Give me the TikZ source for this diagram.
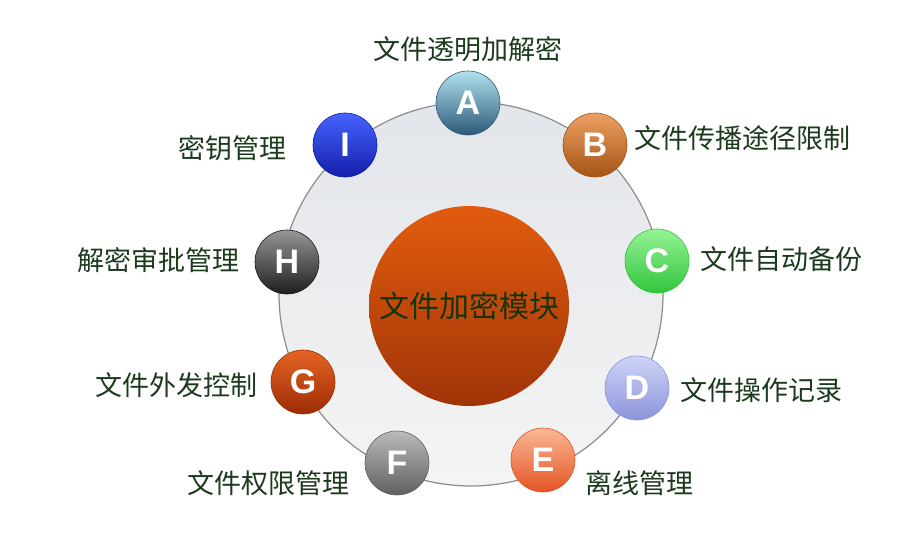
\documentclass[tikz,border=0pt]{standalone}
\usepackage{fontspec}
\newfontfamily\cjk{Noto Sans CJK SC}
\newfontfamily\letterfont{Liberation Sans}
\usetikzlibrary{positioning}
\definecolor{labelgreen}{RGB}{28,58,28}
\definecolor{coretext}{RGB}{22,52,12}
\definecolor{coretop}{RGB}{226,92,14}
\definecolor{corebot}{RGB}{160,52,8}
\definecolor{ringtop}{RGB}{226,229,234}
\definecolor{ringbot}{RGB}{244,244,244}
\definecolor{atop}{RGB}{178,226,240}\definecolor{abot}{RGB}{44,90,120}
\definecolor{btop}{RGB}{238,160,100}\definecolor{bbot}{RGB}{164,84,20}
\definecolor{ctop}{RGB}{150,244,150}\definecolor{cbot}{RGB}{50,196,60}
\definecolor{dtop}{RGB}{206,212,246}\definecolor{dbot}{RGB}{140,148,220}
\definecolor{etop}{RGB}{250,184,150}\definecolor{ebot}{RGB}{228,84,36}
\definecolor{ftop}{RGB}{186,186,186}\definecolor{fbot}{RGB}{96,96,96}
\definecolor{gtop}{RGB}{230,100,36}\definecolor{gbot}{RGB}{156,44,4}
\definecolor{htop}{RGB}{150,150,150}\definecolor{hbot}{RGB}{30,30,30}
\definecolor{itop}{RGB}{70,100,255}\definecolor{ibot}{RGB}{20,30,170}
\tikzset{ring node/.style={circle,minimum size=384pt,inner sep=0pt,top color=ringtop,bottom color=ringbot,draw=black!45,line width=1.2pt},
         core node/.style={circle,minimum size=200pt,inner sep=0pt,top color=coretop,bottom color=corebot,draw=none,font=\cjk\fontsize{30}{30}\selectfont,text=coretext},
         ball node/.style n args={2}{circle,minimum size=64pt,inner sep=0pt,top color=#1,bottom color=#2,draw=#2,line width=0.6pt,font=\letterfont\bfseries\fontsize{34}{34}\selectfont,text=white},
         item label/.style={font=\cjk\fontsize{27}{27}\selectfont,text=labelgreen,inner sep=0pt},
            }

\begin{document}
\begin{tikzpicture}[x=1pt,y=-1pt]
    \useasboundingbox (0,0) rectangle (914,559);
    \node[ring node] (ring) at (471,294) {};
    \node[core node] (core) at (469,306) {文件加密模块};

    \node[ball node={atop}{abot}] (A) at (468,103) {A};
    \node[ball node={btop}{bbot}] (B) at (595,145) {B};
    \node[ball node={ctop}{cbot}] (C) at (657,261) {C};
    \node[ball node={dtop}{dbot}] (D) at (637,388) {D};
    \node[ball node={etop}{ebot}] (E) at (543,460) {E};
    \node[ball node={ftop}{fbot}] (F) at (397,463) {F};
    \node[ball node={gtop}{gbot}] (G) at (303,382) {G};
    \node[ball node={htop}{hbot}] (H) at (287,262) {H};
    \node[ball node={itop}{ibot}] (I) at (345,145) {I};

    \node[item label] (la) [above = 9pt of A] {文件透明加解密};
    \node[item label] (lb) [right = 7pt of B, yshift=7pt] {文件传播途径限制};
    \node[item label] (lc) [right = 11pt of C, yshift=2pt] {文件自动备份};
    \node[item label] (ld) [right = 11pt of D, yshift=-2pt] {文件操作记录};
    \node[item label] (le) [right = 10pt of E, yshift=-23pt] {离线管理};
    \node[item label] (lf) [left = 15pt of F, yshift=-20pt] {文件权限管理};
    \node[item label] (lg) [left = 13pt of G, yshift=-3pt] {文件外发控制};
    \node[item label] (lh) [left = 15pt of H, yshift=2pt] {解密审批管理};
    \node[item label] (li) [left = 26pt of I, yshift=-3pt] {密钥管理};

\end{tikzpicture}
\end{document}
